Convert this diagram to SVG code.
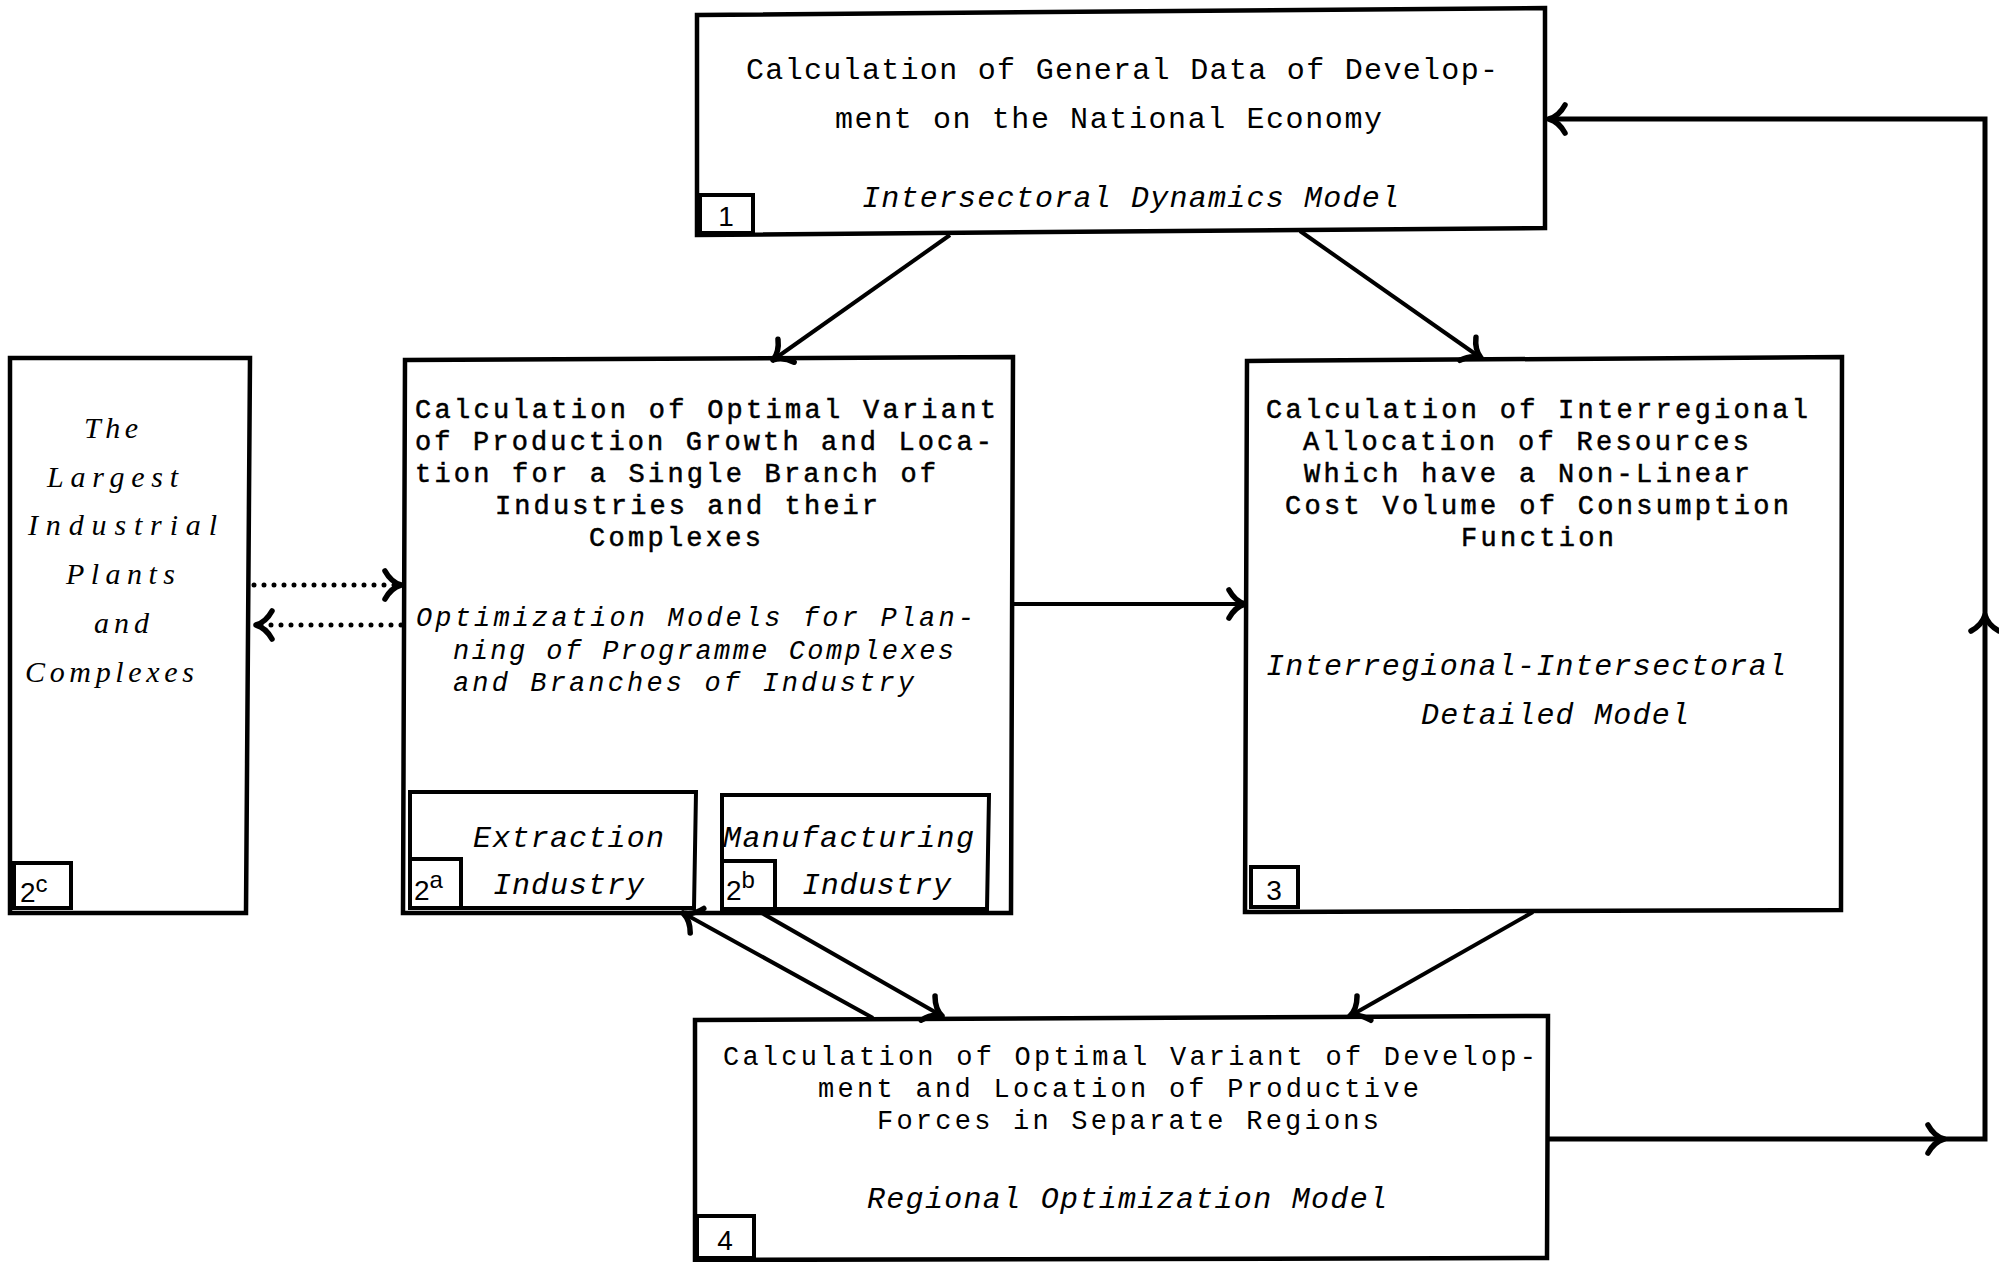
<svg xmlns="http://www.w3.org/2000/svg" width="1999" height="1262" viewBox="0 0 1999 1262">
<style>
.bx{fill:none;stroke:#000;stroke-width:4.5;stroke-linejoin:miter}
.sb{fill:none;stroke:#000;stroke-width:4}
.t{font-family:"Liberation Mono","DejaVu Sans Mono",monospace;font-size:30px;fill:#000}
.s{font-size:27px}
.u{stroke:#000;stroke-width:0.5}
.i{font-style:italic}
.sc{font-family:"Liberation Serif","DejaVu Serif",serif;font-style:italic;font-size:30px;fill:#000}
.lb{font-family:"Liberation Sans","DejaVu Sans",sans-serif;font-size:28px;fill:#000}
.sup{font-size:24px}
.c{fill:none;stroke:#000;stroke-width:4;marker-end:url(#ah)}
.d{stroke-dasharray:0 10;stroke-linecap:round;stroke-width:5}
.lp{fill:none;stroke:#000;stroke-width:5}
</style>
<defs>
<marker id="ah" markerUnits="userSpaceOnUse" markerWidth="60" markerHeight="60" viewBox="0 0 60 60" refX="30" refY="30" orient="auto" overflow="visible">
<path d="M30,30 Q20,27 14,16 M30,30 Q20,33 14,44" fill="none" stroke="#000" stroke-width="5.5" stroke-linecap="round"/>
</marker>
</defs>

<g id="connectors">
<path class="c" d="M950,235 L773,360"/>
<path class="c" d="M1300,231 L1481,358"/>
<path class="c" d="M1013,604 L1245,604"/>
<path class="c d" d="M254,585 L401,585"/>
<path class="c d" d="M401,625 L256,625"/>
<path class="c" d="M873,1018 L683,913"/>
<path class="c" d="M760,912 L942,1016"/>
<path class="c" d="M1533,912 L1350,1016"/>
<path class="lp" d="M1548,1139 L1985,1139 L1985,119 L1549,119" style="marker-end:url(#ah)"/>
<path class="c" d="M1900,1139 L1944,1139"/>
<path class="c" d="M1985,660 L1985,615"/>
</g>

<g id="node1">
<polygon class="bx" points="697,15 1545,8 1545,228 697,235"/>
<rect class="sb" x="700" y="195" width="53" height="38"/>
<text class="lb" x="726" y="226" text-anchor="middle">1</text>
<text class="t" x="746" y="79" textLength="752" lengthAdjust="spacing">Calculation of General Data of Develop-</text>
<text class="t" x="835" y="128" textLength="547" lengthAdjust="spacing">ment on the National Economy</text>
<text class="t i" x="862" y="207" textLength="537" lengthAdjust="spacing">Intersectoral Dynamics Model</text>
</g>

<g id="node2">
<polygon class="bx" points="405,360 1013,357 1011,913 403,913"/>
<text class="t s u" x="415" y="418" textLength="581" lengthAdjust="spacing">Calculation of Optimal Variant</text>
<text class="t s u" x="415" y="450" textLength="577" lengthAdjust="spacing">of Production Growth and Loca-</text>
<text class="t s u" x="415" y="482" textLength="521" lengthAdjust="spacing">tion for a Single Branch of</text>
<text class="t s u" x="495" y="514" textLength="383" lengthAdjust="spacing">Industries and their</text>
<text class="t s u" x="589" y="546" textLength="172" lengthAdjust="spacing">Complexes</text>
<text class="t s i" x="416" y="626" textLength="558" lengthAdjust="spacing">Optimization Models for Plan-</text>
<text class="t s i" x="453" y="659" textLength="501" lengthAdjust="spacing">ning of Programme Complexes</text>
<text class="t s i" x="453" y="691" textLength="461" lengthAdjust="spacing">and Branches of Industry</text>
</g>

<g id="node2a">
<polygon class="sb" points="410,792 696,792 694,908 410,908"/>
<rect class="sb" x="410" y="859" width="51" height="49"/>
<text class="lb" x="414" y="900">2<tspan class="sup" dy="-12">a</tspan></text>
<text class="t i" x="473" y="847" textLength="191" lengthAdjust="spacing">Extraction</text>
<text class="t i" x="493" y="894" textLength="151" lengthAdjust="spacing">Industry</text>
</g>

<g id="node2b">
<polygon class="sb" points="722,795 989,795 987,909 722,909"/>
<rect class="sb" x="722" y="861" width="53" height="48"/>
<text class="lb" x="726" y="900">2<tspan class="sup" dy="-12">b</tspan></text>
<text class="t i" x="723" y="847" textLength="251" lengthAdjust="spacing">Manufacturing</text>
<text class="t i" x="802" y="894" textLength="149" lengthAdjust="spacing">Industry</text>
</g>

<g id="node2c">
<polygon class="bx" points="10,358 250,358 246,913 10,913"/>
<rect class="sb" x="14" y="863" width="57" height="45"/>
<text class="lb" x="20" y="902">2<tspan class="sup" dy="-10">c</tspan></text>
<text class="sc" x="84" y="438" textLength="54" lengthAdjust="spacing">The</text>
<text class="sc" x="47" y="487" textLength="131" lengthAdjust="spacing">Largest</text>
<text class="sc" x="28" y="535" textLength="189" lengthAdjust="spacing">Industrial</text>
<text class="sc" x="66" y="584" textLength="109" lengthAdjust="spacing">Plants</text>
<text class="sc" x="94" y="633" textLength="55" lengthAdjust="spacing">and</text>
<text class="sc" x="25" y="682" textLength="169" lengthAdjust="spacing">Complexes</text>
</g>

<g id="node3">
<polygon class="bx" points="1247,361 1842,357 1841,910 1245,912"/>
<rect class="sb" x="1251" y="867" width="47" height="40"/>
<text class="lb" x="1274" y="900" text-anchor="middle">3</text>
<text class="t s u" x="1266" y="418" textLength="542" lengthAdjust="spacing">Calculation of Interregional</text>
<text class="t s u" x="1303" y="450" textLength="446" lengthAdjust="spacing">Allocation of Resources</text>
<text class="t s u" x="1304" y="482" textLength="446" lengthAdjust="spacing">Which have a Non-Linear</text>
<text class="t s u" x="1285" y="514" textLength="504" lengthAdjust="spacing">Cost Volume of Consumption</text>
<text class="t s u" x="1461" y="546" textLength="153" lengthAdjust="spacing">Function</text>
<text class="t i" x="1266" y="675" textLength="520" lengthAdjust="spacing">Interregional-Intersectoral</text>
<text class="t i" x="1421" y="724" textLength="268" lengthAdjust="spacing">Detailed Model</text>
</g>

<g id="node4">
<polygon class="bx" points="695,1020 1548,1016 1547,1258 695,1260"/>
<rect class="sb" x="697" y="1216" width="57" height="42"/>
<text class="lb" x="725" y="1250" text-anchor="middle">4</text>
<text class="t s" x="723" y="1065" textLength="813" lengthAdjust="spacing">Calculation of Optimal Variant of Develop-</text>
<text class="t s" x="818" y="1097" textLength="601" lengthAdjust="spacing">ment and Location of Productive</text>
<text class="t s" x="877" y="1129" textLength="502" lengthAdjust="spacing">Forces in Separate Regions</text>
<text class="t i" x="867" y="1208" textLength="520" lengthAdjust="spacing">Regional Optimization Model</text>
</g>
</svg>
